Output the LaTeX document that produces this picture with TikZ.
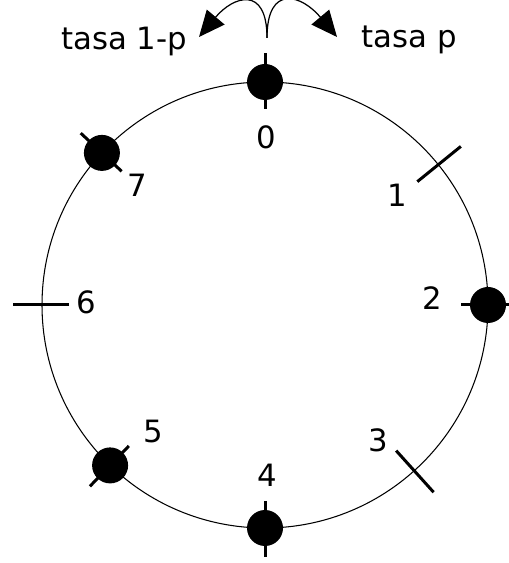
\documentclass[tikz,border=0pt]{standalone}
\usepackage{fontspec}
\setmainfont{DejaVu Sans}
\usetikzlibrary{arrows.meta,calc}

\begin{document}
\begin{tikzpicture}[x=0.02cm,y=0.02cm,font=\fontsize{17.5}{21}\selectfont,>={Triangle[length=0.52cm,width=0.46cm]}]
  \useasboundingbox (0,0) rectangle (509,563);
  \coordinate (c) at (265,258);
  \draw[line width=.6pt] (c) circle[radius=223];
  % sites on the ring
  \foreach \i/\a/\lx/\ly in {0/90/266/426,1/39/397/368,2/0/432/265,3/-48/378/123,4/-90/267/88,5/-134/153/131,6/180/86/261,7/137/137/378}{
    \draw[line width=1.7pt] ($(c)+(\a:196)$) -- ($(c)+(\a:252)$);
    \node (l\i) at (\lx,\ly) {\i};
  }
  % occupied sites
  \foreach \i/\a in {0/90,2/0,4/-90,5/-134,7/137}
    \node[circle,fill,inner sep=0,minimum size=0.72cm] (p\i) at ($(c)+(\a:223)$) {};
  % jump rates
  \coordinate (top) at (267,525);
  \coordinate (tl) at (199,526);
  \coordinate (tr) at (337,526);
  \draw[line width=.7pt,->] (top) to[out=90,in=50,looseness=2] (tl);
  \draw[line width=.7pt,->] (top) to[out=90,in=130,looseness=2] (tr);
  \node[anchor=base] (rl) at (124,513) {tasa 1-p};
  \node[anchor=base] (rr) at (409,515) {tasa p};
\end{tikzpicture}
\end{document}
